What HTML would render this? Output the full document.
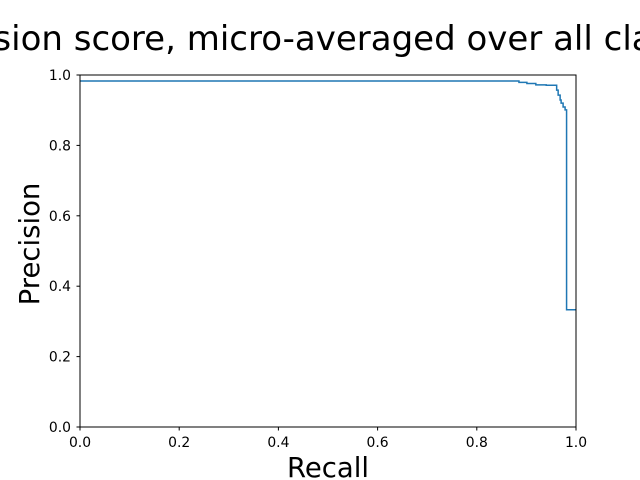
<!DOCTYPE html>
<html><head><meta charset="utf-8"><style>
body{margin:0;background:#fff;font-family:"Liberation Sans","DejaVu Sans",sans-serif}
svg{display:block}
</style></head><body>
<svg width="640" height="480" font-family="DejaVu Sans, Liberation Sans, sans-serif">
<rect width="640" height="480" fill="#fff"/>
<text x="328" y="50" text-anchor="middle" font-size="34">Average precision score, micro-averaged over all classes: AP=0.98</text>
<g id="plot"></g>
<rect x="80" y="75" width="496" height="352" fill="none" stroke="#000" stroke-width="1"/>
<g id="ticks" font-size="13.9"></g>
<text x="328" y="477" text-anchor="middle" font-size="27.5">Recall</text>
<text transform="translate(39,244) rotate(-90)" text-anchor="middle" font-size="27.5">Precision</text>
</svg>
<script>
const recall=[0,0.885,0.901,0.919,0.940,0.961,0.964,0.968,0.970,0.974,0.978,0.981];
const precision=[0.983,0.979,0.976,0.972,0.971,0.957,0.943,0.929,0.920,0.909,0.901,0.333];
const xTicks=["0.0","0.2","0.4","0.6","0.8","1.0"];
const yTicks=["0.0","0.2","0.4","0.6","0.8","1.0"];
const sx=v=>80+v*496, sy=v=>427-v*352;
const NS="http://www.w3.org/2000/svg";
const plot=document.getElementById('plot');
let d="M"+sx(recall[0])+","+sy(precision[0]);
for(let i=1;i<recall.length;i++){
  d+=" H"+sx(recall[i])+" V"+sy(precision[i]);
}
d+=" H"+sx(1);
const p=document.createElementNS(NS,'path');
p.setAttribute('d',d);p.setAttribute('fill','none');p.setAttribute('stroke','#1f77b4');p.setAttribute('stroke-width','1.5');


plot.appendChild(p);
const tg=document.getElementById('ticks');
xTicks.forEach(t=>{
  const x=sx(parseFloat(t));
  const l=document.createElementNS(NS,'line');
  l.setAttribute('x1',x);l.setAttribute('x2',x);l.setAttribute('y1',427);l.setAttribute('y2',430.5);l.setAttribute('stroke','#000');
  
  
  tg.appendChild(l);
  const tx=document.createElementNS(NS,'text');
  tx.setAttribute('x',x);tx.setAttribute('y',447);tx.setAttribute('text-anchor','middle');tx.textContent=t;
  
  
  tg.appendChild(tx);
});
yTicks.forEach(t=>{
  const y=sy(parseFloat(t));
  const l=document.createElementNS(NS,'line');
  l.setAttribute('x1',76.5);l.setAttribute('x2',80);l.setAttribute('y1',y);l.setAttribute('y2',y);l.setAttribute('stroke','#000');
  
  
  tg.appendChild(l);
  const tx=document.createElementNS(NS,'text');
  tx.setAttribute('x',71);tx.setAttribute('y',y+5);tx.setAttribute('text-anchor','end');tx.textContent=t;
  
  
  tg.appendChild(tx);
});
</script>
</body></html>
